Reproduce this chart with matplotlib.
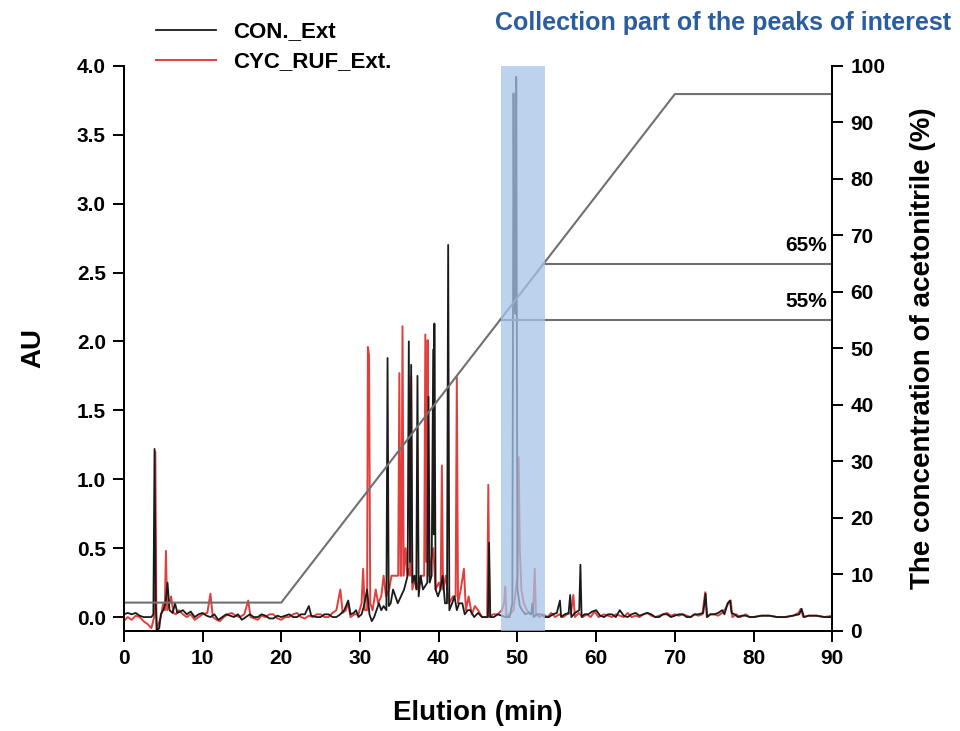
import matplotlib
matplotlib.use("Agg")
import matplotlib.pyplot as plt

plt.rcParams["font.family"] = ["Liberation Sans", "DejaVu Sans"]

# ---- data (vertices of each trace: time in min, AU) ----
con_pts = [
    (0, 0.02), (0.5, 0.03), (1, 0.02), (1.5, 0.03), (2, 0.01), (2.5, 0.0), (3, 0.0), (3.5, 0.0),
    (3.75, 0.02), (3.9, 1.22), (4.05, 0.1), (4.2, -0.1), (4.5, -0.08), (4.7, 0.02), (5.0, 0.05),
    (5.3, 0.1), (5.55, 0.25), (5.8, 0.05), (6.2, 0.03), (6.5, 0.1), (6.8, 0.03), (7.5, 0.05),
    (8, 0.02), (8.5, 0.04), (9, 0.0), (9.5, 0.02), (10, 0.03), (10.5, 0.01), (11, 0.0), (11.5, 0.02),
    (12, -0.02), (12.5, 0.0), (13, 0.02), (13.5, 0.01), (14, 0.0), (14.5, 0.02), (15, -0.02),
    (15.5, 0.0), (16, 0.02), (16.5, 0.0), (17, 0.0), (17.5, 0.02), (18, 0.01), (18.5, -0.01),
    (19, -0.01), (19.5, 0.01), (20, 0.0), (20.5, 0.01), (21, 0.02), (21.5, 0.0), (22, 0.0),
    (22.5, 0.02), (23, 0.02), (23.5, 0.08), (23.8, 0.01), (24.5, 0.0), (25, 0.0), (25.5, 0.02),
    (26, 0.02), (26.5, 0.0), (27, 0.0), (27.5, 0.02), (28, 0.05), (28.5, 0.12), (28.8, 0.02),
    (29.2, 0.03), (29.5, 0.05), (29.8, 0.0), (30.2, 0.02), (30.5, 0.08), (30.9, 0.2), (31.2, 0.02),
    (31.5, -0.03), (31.8, 0.0), (32.1, 0.05), (32.4, 0.1), (32.7, 0.05), (33.0, 0.08), (33.35, 0.05),
    (33.5, 1.88), (33.65, 0.08), (33.9, 0.1), (34.2, 0.2), (34.5, 0.15), (34.8, 0.1), (35.2, 0.15),
    (35.6, 0.2), (36.05, 0.3), (36.2, 2.0), (36.35, 0.4), (36.5, 1.83), (36.65, 0.25), (36.9, 0.3),
    (37.15, 0.2), (37.3, 1.75), (37.45, 0.15), (37.7, 0.3), (38.0, 0.2), (38.55, 0.25), (38.7, 1.6),
    (38.85, 0.25), (39.1, 0.3), (39.3, 1.94), (39.38, 0.6), (39.45, 2.13), (39.6, 0.2), (39.9, 0.15),
    (40.2, 0.2), (40.5, 0.3), (40.8, 0.1), (41.05, 0.1), (41.2, 2.7), (41.35, 0.05), (41.7, 0.1),
    (42.0, 0.15), (42.3, 0.05), (42.6, 0.1), (43, 0.1), (43.3, 0.02), (43.7, 0.05), (44, 0.05),
    (44.5, 0.0), (45, 0.03), (45.5, 0.0), (46.25, 0.0), (46.4, 0.54), (46.55, 0.0), (47, 0.0),
    (47.5, 0.02), (48, 0.01), (48.5, 0.0), (49, 0.0), (49.35, 0.1), (49.5, 3.8), (49.6, 2.3),
    (49.68, 2.48), (49.75, 2.2), (49.85, 3.92), (50.0, 0.2), (50.3, 0.08), (50.6, 0.05), (51, 0.02),
    (51.4, 0.03), (51.75, 0.02), (51.9, 0.1), (52.05, 0.0), (52.5, 0.02), (53, 0.02), (53.5, 0.0),
    (54, 0.0), (54.5, 0.02), (55, 0.03), (55.4, 0.12), (55.55, 0.0), (56, 0.02), (56.5, 0.03),
    (56.7, 0.16), (56.85, 0.0), (57.3, 0.03), (57.85, 0.05), (58.0, 0.38), (58.15, 0.0), (58.5, 0.02),
    (59, 0.02), (59.5, 0.04), (60, 0.05), (60.5, 0.01), (61, 0.0), (61.5, 0.02), (62, 0.02),
    (62.5, 0.0), (63, 0.05), (63.5, 0.01), (64, 0.0), (64.5, 0.02), (65, 0.03), (65.5, 0.01),
    (66, 0.02), (66.5, 0.03), (67, 0.02), (67.5, 0.0), (68, 0.0), (68.5, 0.02), (69, 0.02),
    (69.5, 0.0), (70, 0.01), (70.5, 0.02), (71, 0.02), (71.5, 0.0), (72, 0.0), (72.5, 0.02),
    (73, 0.02), (73.6, 0.03), (73.9, 0.17), (74.1, 0.0), (74.5, 0.02), (75, 0.02), (75.5, 0.03),
    (76, 0.05), (76.3, 0.02), (76.7, 0.1), (77.0, 0.12), (77.2, 0.03), (77.6, 0.02), (78, 0.0),
    (78.5, 0.01), (79, 0.01), (79.5, 0.0), (80, 0.0), (81, 0.01), (82, 0.01), (83, 0.0), (84, 0.0),
    (85, 0.01), (85.8, 0.02), (86.1, 0.06), (86.4, 0.0), (87, 0.01), (88, 0.01), (89, 0.0), (90, 0.0),
]
cyc_pts = [
    (0, -0.03), (0.5, 0.0), (1, -0.02), (1.5, 0.01), (2, 0.0), (2.5, -0.03), (3, -0.05), (3.5, -0.08),
    (3.85, 0.0), (4.0, 1.2), (4.15, -0.1), (4.4, -0.05), (4.7, 0.0), (5.0, 0.1), (5.2, 0.05),
    (5.35, 0.48), (5.5, 0.05), (5.8, 0.1), (6.0, 0.15), (6.3, 0.03), (6.6, 0.02), (7, 0.05),
    (7.5, 0.02), (8, 0.0), (8.5, 0.02), (9, -0.02), (9.5, 0.0), (10, 0.02), (10.6, 0.03), (11, 0.17),
    (11.3, 0.0), (11.8, -0.02), (12.2, -0.03), (12.7, 0.0), (13.2, 0.02), (13.7, 0.03), (14.2, 0.01),
    (14.7, 0.0), (15.3, 0.02), (15.8, 0.12), (16.1, 0.0), (16.6, -0.01), (17, -0.02), (17.5, 0.01),
    (18, 0.0), (18.5, 0.02), (19, 0.02), (19.5, -0.01), (20, -0.02), (20.5, 0.0), (21, 0.0),
    (21.5, 0.02), (22, 0.03), (22.5, 0.0), (23, -0.01), (23.5, 0.01), (24, 0.0), (24.5, 0.02),
    (25, 0.02), (25.5, 0.0), (26, 0.0), (26.5, 0.03), (27, 0.05), (27.5, 0.2), (27.8, 0.03),
    (28.2, 0.05), (28.5, 0.1), (28.8, 0.0), (29.3, 0.02), (29.8, 0.02), (30.2, 0.1), (30.4, 0.35),
    (30.6, 0.05), (30.9, 0.05), (31.0, 1.96), (31.15, 1.9), (31.3, 0.1), (31.6, 0.05), (32.0, 0.2),
    (32.3, 0.1), (32.7, 0.15), (33.0, 0.3), (33.3, 0.15), (33.7, 0.2), (34.0, 0.3), (34.85, 0.3),
    (35.0, 1.77), (35.15, 0.3), (35.25, 0.3), (35.4, 2.11), (35.55, 0.3), (35.8, 0.5), (36.0, 0.3),
    (36.2, 0.35), (36.35, 0.3), (36.5, 1.75), (36.65, 0.2), (37.0, 0.3), (37.4, 0.2), (37.8, 0.3),
    (38.15, 0.3), (38.3, 2.05), (38.42, 0.4), (38.5, 0.4), (38.6, 2.01), (38.75, 0.3), (39.0, 0.4),
    (39.3, 0.5), (39.6, 0.2), (40.0, 0.25), (40.25, 0.2), (40.4, 1.1), (40.55, 0.2), (40.9, 0.3),
    (41.3, 0.1), (41.8, 0.15), (42.15, 0.15), (42.3, 1.74), (42.45, 0.1), (42.8, 0.2), (43.2, 0.35),
    (43.45, 0.05), (43.8, 0.15), (44.2, 0.02), (44.6, 0.08), (45, 0.05), (45.5, 0.0), (46.15, 0.0),
    (46.3, 0.96), (46.45, 0.0), (46.9, 0.02), (47.5, 0.02), (48.0, 0.05), (48.3, 0.1), (48.45, 0.22),
    (48.6, 0.0), (49.0, 0.02), (49.5, 0.05), (50.0, 0.3), (50.15, 1.16), (50.3, 0.5), (50.5, 0.2),
    (50.8, 0.1), (51.2, 0.05), (51.7, 0.02), (52.0, 0.05), (52.2, 0.35), (52.35, 0.02), (52.8, 0.0),
    (53.3, 0.02), (53.8, 0.0), (54.3, 0.03), (54.8, 0.0), (55.3, 0.02), (55.8, 0.0), (56.3, 0.02),
    (56.8, 0.03), (57.1, 0.16), (57.3, 0.0), (57.8, 0.03), (58.3, 0.0), (58.8, 0.02), (59.3, 0.0),
    (59.8, 0.04), (60.3, 0.0), (61, 0.02), (61.5, 0.01), (62, 0.0), (62.5, 0.02), (63, 0.01),
    (63.5, 0.0), (64, 0.03), (64.5, 0.0), (65, 0.01), (65.5, 0.0), (66, 0.02), (66.5, 0.03),
    (67, 0.01), (67.5, 0.0), (68, 0.01), (68.5, 0.02), (69, 0.03), (69.5, 0.01), (70, 0.02),
    (70.5, 0.01), (71, 0.02), (71.5, 0.01), (72, 0.0), (72.5, 0.02), (73, 0.01), (73.5, 0.02),
    (73.85, 0.18), (74.05, 0.0), (74.5, 0.02), (75, 0.02), (75.5, 0.01), (76, 0.03), (76.4, 0.06),
    (76.8, 0.1), (77.1, 0.12), (77.3, 0.0), (77.8, 0.02), (78.3, 0.0), (79, 0.02), (79.5, 0.0),
    (80, 0.0), (81, 0.01), (82, 0.01), (83, 0.0), (84, 0.0), (85, 0.01), (85.7, 0.03), (86.0, 0.06),
    (86.3, 0.0), (87, 0.01), (88, 0.01), (89, 0.0), (90, 0.01),
]
con_time = [p[0] for p in con_pts]
con_au = [p[1] for p in con_pts]
cyc_time = [p[0] for p in cyc_pts]
cyc_au = [p[1] for p in cyc_pts]

grad_time = [0, 20, 70, 90]
grad_pct = [5, 5, 95, 95]

mark_pct = [55, 65]
mark_start = [47.8, 53.3]
mark_labels = ["55%", "65%"]

collect_start, collect_end = 47.9, 53.5

x_ticks = [0, 10, 20, 30, 40, 50, 60, 70, 80, 90]
au_ticks = [0.0, 0.5, 1.0, 1.5, 2.0, 2.5, 3.0, 3.5, 4.0]
pct_ticks = [0, 10, 20, 30, 40, 50, 60, 70, 80, 90, 100]

# ---- figure ----
fig = plt.figure(figsize=(9.6, 7.31), dpi=100)
ax = fig.add_axes([0.129, 0.137, 0.738, 0.773])
ax2 = ax.twinx()

ax.plot(cyc_time, cyc_au, color="#dd2a26", lw=1.4, alpha=0.9, label="CYC_RUF_Ext.", zorder=2)
ax.plot(con_time, con_au, color="#1a1a1a", lw=1.3, label="CON._Ext", zorder=3)

ax2.plot(grad_time, grad_pct, color="#707070", lw=1.5, zorder=2)
for p, s, lab in zip(mark_pct, mark_start, mark_labels):
    ax2.plot([s, 90], [p, p], color="#707070", lw=1.5)
    ax2.text(89.3, p + 1.6, lab, ha="right", va="bottom", fontsize=15, fontweight="bold")

ax2.axvspan(collect_start, collect_end, color="#a6c3e8", alpha=0.75, lw=0, zorder=5)

ax.set_xlim(0, 90)
ax.set_ylim(-0.1, 4.0)
ax2.set_ylim(0, 100)
ax.set_xticks(x_ticks)
ax.set_yticks(au_ticks)
ax2.set_yticks(pct_ticks)
ax.set_yticklabels([f"{v:.1f}" for v in au_ticks])

for a in (ax, ax2):
    a.spines["top"].set_visible(False)
    for s in a.spines.values():
        s.set_linewidth(1.4)
    a.tick_params(direction="out", length=8, width=1.4, labelsize=15, pad=5)
    for lbl in a.get_xticklabels() + a.get_yticklabels():
        lbl.set_fontweight("bold")

ax.set_xlabel("Elution (min)", fontsize=20, fontweight="bold", labelpad=23)
ax.set_ylabel("AU", fontsize=20, fontweight="bold", labelpad=22)
ax2.set_ylabel("The concentration of acetonitrile (%)", fontsize=20, fontweight="bold", labelpad=18)

h, l = ax.get_legend_handles_labels()
order = [1, 0]
fig.legend([h[i] for i in order], [l[i] for i in order], loc="upper left",
           bbox_to_anchor=(0.142, 0.998), frameon=False, handlelength=2.7,
           prop={"size": 16, "weight": "bold"}, labelspacing=0.4, handletextpad=0.75)

fig.text(0.753, 0.969, "Collection part of the peaks of interest", ha="center", va="center",
         fontsize=18, fontweight="bold", color="#2a5d9f")

fig.savefig("out.png", dpi=100)
